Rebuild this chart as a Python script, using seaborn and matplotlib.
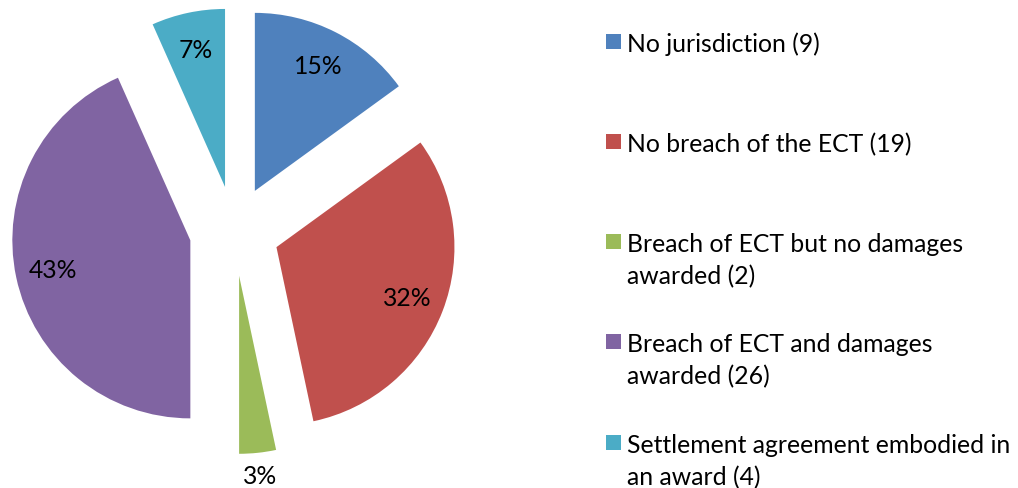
import matplotlib
matplotlib.use("Agg")
import matplotlib.pyplot as plt
import seaborn as sns
import numpy as np
from matplotlib.patches import Rectangle

# Data
categories = [
    "No jurisdiction (9)",
    "No breach of the ECT (19)",
    "Breach of ECT but no damages\nawarded (2)",
    "Breach of ECT and damages\nawarded (26)",
    "Settlement agreement embodied in\nan award (4)",
]
counts = [9, 19, 2, 26, 4]
colors = ["#4F81BD", "#C0504D", "#9BBB59", "#8064A2", "#4BACC6"]

sns.set_theme(style="white")
plt.rcParams["font.family"] = ["Lato", "DejaVu Sans"]
FS = 17.8

W, H = 1018, 489
fig = plt.figure(figsize=(W / 100, H / 100), dpi=100)

# pie axes: centre at (234, 232) px, radius 178 px
cx, cy, R, half = 234.4, 232.0, 178.0, 234.0
ax = fig.add_axes([(cx - half) / W, (H - cy - half) / H, 2 * half / W, 2 * half / H])

total = sum(counts)
wedges, texts, autotexts = ax.pie(
    counts,
    colors=colors,
    startangle=90,
    counterclock=False,
    explode=[0.253] * len(counts),
    autopct=lambda p: f"{round(p)}%",
    pctdistance=0.79,
    wedgeprops=dict(linewidth=0),
    textprops=dict(fontsize=FS, color="black"),
)

# small slices get their label outside the wedge
for w, t, c in zip(wedges, autotexts, counts):
    if c / total < 0.05:
        mid = np.deg2rad((w.theta1 + w.theta2) / 2)
        x0, y0 = w.center
        t.set_position((x0 + 1.13 * np.cos(mid), y0 + 1.13 * np.sin(mid)))

lim = half / R
ax.set_xlim(-lim, lim)
ax.set_ylim(-lim, lim)
ax.set_aspect("equal")
ax.axis("off")

# legend drawn by hand so that markers line up with the first text line
top, step, line = 42.0, 100.3, 32.0
for i, (lab, col) in enumerate(zip(categories, colors)):
    y = top + i * step
    fig.patches.append(Rectangle(((606) / W, (H - y - 7.5) / H), 15 / W, 15 / H,
                                 transform=fig.transFigure, facecolor=col,
                                 edgecolor="none"))
    for j, part in enumerate(lab.split("\n")):
        fig.text(627 / W, (H - y - j * line) / H, part, fontsize=FS,
                 va="center_baseline", ha="left", color="black")

fig.savefig("out.png", dpi=100)
